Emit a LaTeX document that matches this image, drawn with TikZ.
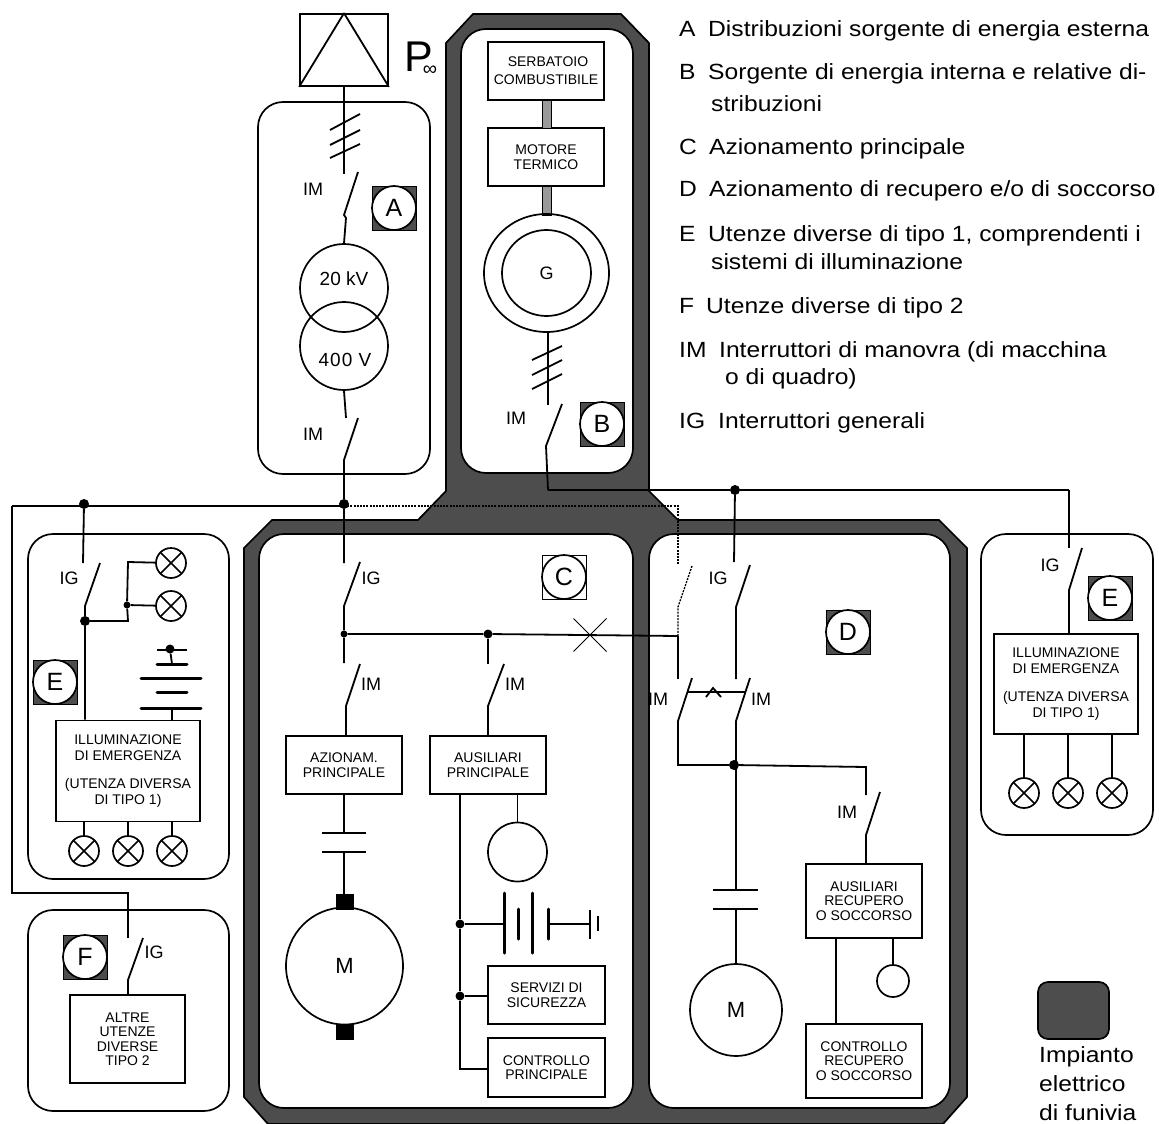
\documentclass[tikz,border=0pt]{standalone}
\usepackage{fontspec}
\setmainfont{Liberation Sans}
\newfontfamily\legendfont[FakeStretch=1.12]{Liberation Sans}
\usetikzlibrary{shapes.geometric,shapes.misc}
\definecolor{impianto}{HTML}{4D4D4D}
\definecolor{albero}{HTML}{999999}
\tikzset{
  wire/.style={line width=1.8pt},
  thinwire/.style={line width=1.3pt},
  dottedwire/.style={line width=1.3pt,dash pattern=on 2pt off 1.2pt},
  thickplate/.style={line width=3pt,line cap=round},
  panel/.style={draw,fill=white,line width=1.7pt,rounded corners=25pt,inner sep=0pt},
  unit/.style={draw,fill=white,line width=1.7pt,inner sep=0pt,align=center,font=\fontsize{14}{14.5}\selectfont},
  lamp/.style={draw,circle,line width=1.7pt,minimum size=30pt,inner sep=0pt,
    path picture={\draw[line width=1.7pt] (path picture bounding box.center) +(-15,-15) -- +(15,15) +(-15,15) -- +(15,-15);}},
  ring/.style={draw,circle,line width=1.7pt,inner sep=0pt},
  badgebg/.style={draw,line width=1pt,fill=impianto,minimum size=44pt,inner sep=0pt},
  badge/.style={draw,circle,fill=white,line width=1.7pt,minimum size=44pt,inner sep=0pt,font=\fontsize{25}{25}\selectfont},
  dot/.style={circle,fill,minimum size=10pt,inner sep=0pt},
  smalldot/.style={circle,fill,minimum size=7pt,inner sep=0pt},
  brush/.style={draw,fill=black,line width=1pt,minimum width=17pt,minimum height=15pt,inner sep=0pt},
  tag/.style={font=\fontsize{18}{18}\selectfont,inner sep=0pt},
  legenda/.style={font=\legendfont\fontsize{22}{28}\selectfont,anchor=base west,align=left,inner sep=0pt}
}
\begin{document}
\begin{tikzpicture}[x=1pt,y=-1pt]
\useasboundingbox (0,0) rectangle (1159,1124);
% dark outline of the plant
\draw[fill=impianto,line width=1.7pt] (473,14) -- (621,14) -- (649,43) -- (649,491) -- (678,520) -- (939,520)
  -- (967,548) -- (967,1097) -- (943,1124) -- (268,1124) -- (244,1097) -- (244,548) -- (272,520) -- (418,520)
  -- (446,491) -- (446,43) -- cycle;
% panels
\node[panel,minimum width=172,minimum height=372] (panelA) at (344,288){};
\node[panel,minimum width=172,minimum height=444] (panelB) at (547,251){};
\node[panel,minimum width=374,minimum height=574] (panelC) at (446,821){};
\node[panel,minimum width=301,minimum height=574] (panelD) at (799.5,821){};
\node[panel,minimum width=201,minimum height=345] (panelE) at (128.5,706.5){};
\node[panel,minimum width=201,minimum height=201] (panelF) at (128.5,1010.5){};
\node[panel,minimum width=172,minimum height=301] (panelG) at (1067,684.5){};
% badges
\node[badgebg] (bgA) at (394,208){};
\node[badge] (tagA) at (394,208){A};
\node[badgebg] (bgB) at (602,424){};
\node[badge] (tagB) at (602,424){B};
\node[badgebg,fill=white] (bgC) at (564,577){};
\node[badge] (tagC) at (564,577){C};
\node[badgebg] (bgD) at (848,632){};
\node[badge] (tagD) at (848,632){D};
\node[badgebg] (bgE) at (55,682){};
\node[badge] (tagE) at (55,682){E};
\node[badgebg] (bgG) at (1110,598){};
\node[badge] (tagG) at (1110,598){E};
\node[badgebg] (bgF) at (85,957){};
\node[badge] (tagF) at (85,957){F};
% external source and transformer
\node[draw,line width=1.7pt,minimum width=88,minimum height=72,inner sep=0pt] (rete) at (344,50){};
\draw[wire] (rete.north) -- (rete.south west);
\draw[wire] (rete.north) -- (rete.south east);
\node[inner sep=0pt,anchor=base west,font=\fontsize{43}{43}\selectfont] (potenza) at (404,72){P\kern-10pt{\fontsize{20}{20}\selectfont\raisebox{-4pt}{∞}}};
\coordinate (a1) at (344,174);
\coordinate (a2) at (358,172);
\coordinate (a3) at (344,215);
\coordinate (a4) at (346,218);
\node[ring,minimum size=88] (kv20) at (344,288){};
\node[ring,minimum size=88] (v400) at (344,346){};
\node[font=\fontsize{19}{19}\selectfont,inner sep=0pt] (kv20t) at (344,279){20 kV};
\node[font=\fontsize{19}{19}\selectfont,inner sep=0pt] (v400t) at (345,360){4\kern1pt0\kern1pt0 \kern1pt V};
\coordinate (a5) at (346,418);
\coordinate (a6) at (358,418);
\coordinate (a7) at (344,460);
\node[dot] (na) at (344,504){};
\coordinate (a8) at (344,563);
\draw[wire] (rete.south) -- (a1);
\coordinate (t1) at (330,130); \coordinate (t2) at (360,114);
\coordinate (t3) at (330,145); \coordinate (t4) at (360,130);
\coordinate (t5) at (330,158); \coordinate (t6) at (360,144);
\draw[wire] (t1) -- (t2);
\draw[wire] (t3) -- (t4);
\draw[wire] (t5) -- (t6);
\draw[wire] (a2) -- (a3) -- (a4) -- (kv20.north);
\draw[wire] (v400.south) -- (a5);
\draw[wire] (a6) -- (a7) -- (na) -- (a8);
\node[tag] (im1) at (313,189){IM};
\node[tag] (im2) at (313,434){IM};
% internal source
\node[unit,minimum width=116,minimum height=58,font=\fontsize{14}{18}\selectfont] (serb) at (546,71){\hspace*{4pt}SERBATOIO\\COMBUSTIBILE};
\node[unit,minimum width=116,minimum height=58] (mot) at (546,157){MOTORE\\TERMICO};
\draw[fill=albero,line width=1pt] (542,100) rectangle (551,128);
\draw[fill=albero,line width=1pt] (542,186) rectangle (551,215);
\node[draw,ellipse,line width=1.7pt,minimum width=125,minimum height=118,inner sep=0pt] (gout) at (546.5,273){};
\node[draw,ellipse,line width=1.7pt,minimum width=89,minimum height=86,inner sep=0pt,font=\fontsize{18}{18}\selectfont] (gin) at (546.5,273){G};
\coordinate (b1) at (548,405);
\coordinate (b2) at (562,404);
\coordinate (b3) at (546,446);
\coordinate (b4) at (548,490);
\coordinate (t7) at (532,360); \coordinate (t8) at (562,346);
\coordinate (t9) at (532,375); \coordinate (t10) at (562,360);
\coordinate (t11) at (532,389); \coordinate (t12) at (562,374);
\draw[wire] (gout.south) ++(1.5,0) -- (b1);
\draw[wire] (t7) -- (t8);
\draw[wire] (t9) -- (t10);
\draw[wire] (t11) -- (t12);
\draw[wire] (b2) -- (b3) -- (b4);
\node[tag] (im3) at (516,418){IM};
% right bus
\node[dot] (nb) at (735,490){};
\coordinate (b5) at (1069,490);
\coordinate (b6) at (1069,548);
\draw[thinwire] (b4) -- (nb) -- (b5);
\draw[wire] (b5) -- (b6);
\coordinate (g1) at (1082,548);
\coordinate (g2) at (1069,590);
\node[unit,minimum width=144,minimum height=100,font=\fontsize{14}{15.5}\selectfont] (emerg2) at (1066,684){ILLUMINAZIONE\\DI EMERGENZA\\[13pt](UTENZA DIVERSA\\DI TIPO 1)};
\draw[wire] (g1) -- (g2) -- (g2 |- emerg2.north);
\node[tag] (ig1) at (1050,565){IG};
\node[lamp] (l6) at (1024,793){};
\node[lamp] (l7) at (1068,793){};
\node[lamp] (l8) at (1112,793){};
\draw[wire] (l6 |- emerg2.south) -- (l6);
\draw[wire] (l7 |- emerg2.south) -- (l7);
\draw[wire] (l8 |- emerg2.south) -- (l8);
% left bus
\coordinate (jb) at (344,506);
\coordinate (c1) at (12,506);
\coordinate (c2) at (12,893);
\coordinate (c3) at (128,893);
\coordinate (c4) at (128,938);
\node[dot] (nc) at (84,504){};
\draw[thinwire] (jb) -- (c1);
\draw[wire] (c1) -- (c2) -- (c3) -- (c4);
% utenze tipo 2
\coordinate (f1) at (143,938);
\coordinate (f2) at (128,980);
\node[unit,minimum width=115,minimum height=88] (altre) at (127.5,1039){ALTRE\\UTENZE\\DIVERSE\\TIPO 2};
\draw[wire] (f1) -- (f2) -- (f2 |- altre.north);
\node[tag] (ig2) at (154,952){IG};
% utenze tipo 1 left
\coordinate (e1) at (83,563);
\coordinate (e2) at (100,563);
\coordinate (e3) at (85,606);
\node[dot] (ne) at (85,621){};
\coordinate (e4) at (128,621);
\node[smalldot] (nl) at (127,605){};
\coordinate (e5) at (128,562);
\node[lamp] (l1) at (171,563){};
\node[lamp] (l2) at (171,606){};
\node[unit,minimum width=144,minimum height=101,font=\fontsize{14}{15.5}\selectfont] (emerg1) at (128,771){ILLUMINAZIONE\\DI EMERGENZA\\[13pt](UTENZA DIVERSA\\DI TIPO 1)};
\draw[wire] (nc) -- (e1);
\draw[wire] (e2) -- (e3) -- (ne) -- (ne |- emerg1.north);
\draw[wire] (ne) -- (e4) -- (nl) -- (e5) -- (l1);
\draw[wire] (nl) -- (l2);
\node[tag] (ig3) at (69,578){IG};
\node[smalldot,minimum size=9pt] (bt0) at (170,649){};
\coordinate (bt1) at (157,650); \coordinate (bt2) at (187,650);
\coordinate (bt3) at (157,664); \coordinate (bt4) at (187,664);
\coordinate (bt5) at (141,678); \coordinate (bt6) at (201,678);
\coordinate (bt7) at (157,692); \coordinate (bt8) at (187,692);
\coordinate (bt9) at (141,708); \coordinate (bt10) at (201,708);
\coordinate (bt11) at (172,664); \coordinate (bt12) at (172,708);
\draw[wire] (bt1) -- (bt2);
\draw[wire] (bt0) -- (bt11);
\draw[thickplate] (bt3) -- (bt4);
\draw[thickplate] (bt5) -- (bt6);
\draw[thickplate] (bt7) -- (bt8);
\draw[thickplate] (bt9) -- (bt10);
\draw[wire] (bt12) -- (bt12 |- emerg1.north);
\node[lamp] (l3) at (84,851){};
\node[lamp] (l4) at (128,851){};
\node[lamp] (l5) at (172,851){};
\draw[wire] (l3 |- emerg1.south) -- (l3);
\draw[wire] (l4 |- emerg1.south) -- (l4);
\draw[wire] (l5 |- emerg1.south) -- (l5);
% main drive
\coordinate (m1) at (360,562);
\coordinate (m2) at (344,606);
\node[smalldot] (nm) at (344,634){};
\coordinate (m3) at (344,663);
\coordinate (m4) at (360,664);
\coordinate (m5) at (346,706);
\node[unit,minimum width=116,minimum height=58] (azion) at (344,765){AZIONAM.\\PRINCIPALE};
\draw[wire] (m1) -- (m2) -- (nm) -- (m3);
\draw[wire] (m4) -- (m5) -- (m5 |- azion.north);
\coordinate (cp1) at (344,833); \coordinate (cp2) at (322,833); \coordinate (cp3) at (366,833);
\coordinate (cp4) at (344,852); \coordinate (cp5) at (322,852); \coordinate (cp6) at (366,852);
\draw[wire] (azion.south) -- (cp1);
\draw[wire] (cp2) -- (cp3);
\draw[wire] (cp5) -- (cp6);
\node[brush] (br1) at (344.5,901.5){};
\node[brush] (br2) at (344.5,1031.5){};
\node[ring,minimum size=117,font=\fontsize{22}{22}\selectfont] (mot1) at (344.5,966){M};
\draw[wire] (cp4) -- (br1.north -| cp4);
\node[tag] (ig4) at (371,578){IG};
\node[tag] (im4) at (371,684){IM};
% auxiliary
\node[dot,minimum size=9pt] (ns) at (488,634){};
\node[draw,cross out,line width=1pt,minimum size=32pt,inner sep=0pt] (xsep) at (590,635){};
\coordinate (m6) at (678,636);
\draw[wire] (nm) -- (ns) -- (m6);
\coordinate (m7) at (488,664);
\coordinate (m8) at (504,664);
\coordinate (m9) at (488,706);
\node[unit,minimum width=116,minimum height=58] (ausil) at (488,765){AUSILIARI\\PRINCIPALE};
\draw[wire] (ns) -- (m7);
\draw[wire] (m8) -- (m9) -- (ausil.north);
\node[tag] (im5) at (515,684){IM};
\node[ring,minimum size=59] (cerchio) at (517.5,852){};
\draw[wire] (cerchio |- ausil.south) -- (cerchio);
\node[unit,minimum width=117,minimum height=58] (servizi) at (546.5,995){SERVIZI DI\\SICUREZZA};
\node[unit,minimum width=117,minimum height=59] (contr) at (546.5,1067.5){CONTROLLO\\PRINCIPALE};
\coordinate (k1) at (460,794);
\node[smalldot,minimum size=9pt] (nk1) at (460,924){};
\node[smalldot,minimum size=9pt] (nk2) at (460,996){};
\coordinate (k2) at (460,1069);
\coordinate (k3) at (488,1069);
\coordinate (k4) at (488,996);
\draw[wire] (k1) -- (nk1) -- (nk2) -- (k2) -- (k3);
\draw[wire] (nk2) -- (k4);
\coordinate (p1) at (504,924);
\coordinate (p2) at (504,893); \coordinate (p3) at (504,953);
\coordinate (p4) at (518,909); \coordinate (p5) at (518,939);
\coordinate (p6) at (532,893); \coordinate (p7) at (532,953);
\coordinate (p8) at (548,909); \coordinate (p9) at (548,939);
\coordinate (p10) at (548,924); \coordinate (p11) at (590,924);
\coordinate (p12) at (590,910); \coordinate (p13) at (590,939);
\coordinate (p14) at (598,916); \coordinate (p15) at (598,931);
\draw[wire] (nk1) -- (p1);
\draw[thickplate] (p2) -- (p3);
\draw[thickplate] (p4) -- (p5);
\draw[thickplate] (p6) -- (p7);
\draw[thickplate] (p8) -- (p9);
\draw[wire] (p10) -- (p11);
\draw[wire] (p12) -- (p13);
\draw[wire] (p14) -- (p15);
% recovery drive
\coordinate (d1) at (678,506);
\coordinate (d2) at (678,564);
\coordinate (d3) at (692,566);
\coordinate (d4) at (678,607);
\draw[dottedwire] (jb) -- (d1) -- (d2);
\draw[dottedwire] (d3) -- (d4) -- (m6);
\coordinate (d5) at (678,679);
\coordinate (d6) at (692,678);
\coordinate (d7) at (678,721);
\coordinate (d8) at (678,765);
\coordinate (d9) at (734,562);
\coordinate (d10) at (750,565);
\coordinate (d11) at (736,607);
\coordinate (d12) at (736,679);
\coordinate (d13) at (750,678);
\coordinate (d14) at (736,721);
\coordinate (d17) at (736,765);
\node[dot] (nd) at (734,765){};
\coordinate (d15) at (866,767);
\coordinate (d16) at (866,795);
\draw[wire] (m6) -- (d5);
\draw[wire] (d6) -- (d7) -- (d8) -- (nd);
\draw[wire] (nb) -- (d9);
\draw[wire] (d10) -- (d11) -- (d12);
\draw[wire] (d13) -- (d14) -- (d17);
\draw[wire] (nd) -- (d15) -- (d16);
\coordinate (lk1) at (688,692); \coordinate (lk2) at (745,692);
\coordinate (lk3) at (706,697); \coordinate (lk4) at (713,688); \coordinate (lk5) at (721,697);
\draw[wire] (lk1) -- (lk2);
\draw[wire] (lk3) -- (lk4) -- (lk5);
\node[tag] (ig5) at (718,578){IG};
\node[tag] (im6) at (658,699){IM};
\node[tag] (im7) at (761,699){IM};
\coordinate (q1) at (736,890); \coordinate (q2) at (713,890); \coordinate (q3) at (758,890);
\coordinate (q4) at (736,909); \coordinate (q5) at (713,909); \coordinate (q6) at (758,909);
\node[ring,minimum size=92,font=\fontsize{22}{22}\selectfont] (mot2) at (736,1010){M};
\draw[wire] (d17) -- (q1);
\draw[wire] (q2) -- (q3);
\draw[wire] (q5) -- (q6);
\draw[wire] (q4) -- (mot2.north);
\coordinate (r1) at (880,792);
\coordinate (r2) at (866,835);
\node[unit,minimum width=116,minimum height=74] (ausrec) at (864,901){AUSILIARI\\RECUPERO\\O SOCCORSO};
\node[unit,minimum width=116,minimum height=74] (conrec) at (864,1061){CONTROLLO\\RECUPERO\\O SOCCORSO};
\draw[wire] (r1) -- (r2) -- (r2 |- ausrec.north);
\node[tag] (im8) at (847,812){IM};
\node[ring,minimum size=32] (cerchio2) at (893,981){};
\draw[wire] (cerchio2 |- ausrec.south) -- (cerchio2);
\coordinate (w1) at (836,938);
\draw[wire] (w1) -- (w1 |- conrec.north);
% legend
\node[legenda] (leg1) at (679,37){\makebox[29pt][l]{A}Distribuzioni sorgente di energia esterna};
\node[legenda] (leg2) at (679,111){\makebox[29pt][l]{B}Sorgente di energia interna e relative di-\\[4pt]\hspace*{32pt}stribuzioni};
\node[legenda] (leg3) at (679,154){\makebox[30pt][l]{C}Azionamento principale};
\node[legenda] (leg4) at (679,196){\makebox[30pt][l]{D}Azionamento di recupero e/o di soccorso};
\node[legenda] (leg5) at (679,269){\makebox[29pt][l]{E}Utenze diverse di tipo 1, comprendenti i\\\hspace*{32pt}sistemi di illuminazione};
\node[legenda] (leg6) at (679,313){\makebox[27pt][l]{F}Utenze diverse di tipo 2};
\node[legenda] (leg7) at (679,384){\makebox[40pt][l]{IM}Interruttori di manovra (di macchina\\[-1pt]\hspace*{46pt}o di quadro)};
\node[legenda] (leg8) at (679,428){\makebox[39pt][l]{IG}Interruttori generali};
\node[draw,fill=impianto,line width=1.7pt,rounded corners=10pt,minimum width=71,minimum height=57,inner sep=0pt] (swatch) at (1073.5,1010.5){};
\node[legenda] (leg9) at (1039,1120){Impianto\\[1pt]elettrico\\[1pt]di funivia};
\end{tikzpicture}
\end{document}
